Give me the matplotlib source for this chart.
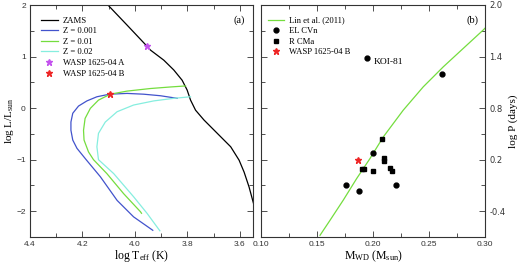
import numpy as np
import matplotlib.pyplot as plt
from matplotlib.ticker import MultipleLocator

plt.rcParams['mathtext.fontset'] = 'custom'
plt.rcParams['mathtext.rm'] = 'Liberation Serif'
plt.rcParams['mathtext.it'] = 'Liberation Serif:italic'

# panel (a): HR diagram
zams_logt = [4.103, 4.03, 3.954, 3.941, 3.89, 3.852, 3.82, 3.801, 3.788, 3.769,
             3.737, 3.686, 3.635, 3.603, 3.584, 3.565, 3.548, 3.544]
zams_logl = [2.0, 1.61, 1.20, 1.126, 0.93, 0.74, 0.54, 0.35, 0.155, -0.04,
             -0.23, -0.49, -0.75, -1.01, -1.24, -1.53, -1.85, -1.95]

z001_logt = [3.839, 3.903, 3.967, 4.03, 4.097, 4.145, 4.183, 4.215, 4.237, 4.244,
             4.244, 4.237, 4.221, 4.186, 4.132, 4.068, 4.005, 3.932]
z001_logl = [0.19, 0.24, 0.27, 0.285, 0.27, 0.22, 0.14, 0.04, -0.10, -0.27,
             -0.43, -0.62, -0.78, -1.0, -1.33, -1.79, -2.11, -2.37]

z01_logt = [3.807, 3.865, 3.941, 4.03, 4.094, 4.139, 4.17, 4.19, 4.196, 4.194,
            4.177, 4.158, 4.107, 4.043, 3.979, 3.975]
z01_logl = [0.43, 0.41, 0.38, 0.33, 0.27, 0.155, -0.005, -0.20, -0.43, -0.62,
            -0.85, -1.0, -1.27, -1.66, -2.01, -2.04]

z02_logt = [3.788, 3.852, 3.928, 4.005, 4.068, 4.113, 4.139, 4.145, 4.139, 4.081,
            4.005, 3.954, 3.905]
z02_logl = [0.22, 0.19, 0.14, 0.06, -0.07, -0.27, -0.49, -0.75, -1.0, -1.27,
            -1.72, -2.04, -2.38]

star_a = (3.954, 1.20)
star_b = (4.096, 0.27)

# panel (b): M_WD - P relation
lin_m = [0.1527, 0.1616, 0.1735, 0.1854, 0.1973, 0.2092, 0.227, 0.2449, 0.2628,
         0.2806, 0.2985, 0.30]
lin_logp = [-0.68, -0.506, -0.27, -0.02, 0.213, 0.465, 0.776, 1.048, 1.281,
            1.495, 1.71, 1.73]

elcvn_m = [0.1944, 0.2613, 0.2003, 0.1759, 0.1872, 0.2203]
elcvn_logp = [1.386, 1.192, 0.283, -0.09, -0.168, -0.09]

rcma_m = [0.2083, 0.2098, 0.2098, 0.1899, 0.192, 0.2003, 0.2152, 0.2167]
rcma_logp = [0.435, 0.22, 0.18, 0.097, 0.097, 0.069, 0.104, 0.065]

wasp_b = (0.1869, 0.193)

serif = 'Liberation Serif'
sans = 'Liberation Sans'
green = '#74dd3e'

fig = plt.figure(figsize=(5.2, 2.65), dpi=100)
ax1 = fig.add_axes([30/520, 28/265, 223/520, 232/265])
ax2 = fig.add_axes([261/520, 28/265, 224/520, 232/265])

ax1.plot(zams_logt, zams_logl, color='black', lw=0.9, label='ZAMS')
ax1.plot(z001_logt, z001_logl, color='#4253cc', lw=0.9, label='Z = 0.001')
ax1.plot(z01_logt, z01_logl, color=green, lw=0.9, label='Z = 0.01')
ax1.plot(z02_logt, z02_logl, color='#86eedf', lw=0.9, label='Z = 0.02')
ax1.plot(*star_a, ls='none', marker='*', color='#c453ee', ms=4.5, label='WASP 1625-04 A')
ax1.plot(*star_b, ls='none', marker='*', color='#ee2626', ms=4.5, label='WASP 1625-04 B')
ax1.set_xlim(4.4, 3.55)
ax1.set_ylim(-2.5, 2)
ax1.xaxis.set_major_locator(MultipleLocator(0.2))
ax1.xaxis.set_minor_locator(MultipleLocator(0.1))
ax1.yaxis.set_major_locator(MultipleLocator(1))
ax1.yaxis.set_minor_locator(MultipleLocator(0.5))
ax1.xaxis.set_major_formatter(plt.FormatStrFormatter('%.1f'))
ax1.set_xlabel(r'log T$_{\rm eff}$ (K)', family=serif, fontsize=8.5, labelpad=0)
ax1.set_ylabel(r'log L/L$_{\rm sun}$', family=serif, fontsize=8, labelpad=0.5)
ax1.text(0.937, 0.935, '(a)', transform=ax1.transAxes, ha='center', va='center',
         family=serif, fontsize=7.5)
ax1.legend(loc='upper left', bbox_to_anchor=(0.05, 0.95), frameon=False,
           prop={'family': serif, 'size': 6.2}, handlelength=1.9,
           labelspacing=0.3, handletextpad=0.6, borderaxespad=0, borderpad=0)

ax2.plot(lin_m, lin_logp, color=green, lw=0.9, label='Lin et al. (2011)')
ax2.plot(elcvn_m, elcvn_logp, ls='none', marker='o', color='black', ms=3.5, label='EL CVn')
ax2.plot(rcma_m, rcma_logp, ls='none', marker='s', color='black', ms=2.8, label='R CMa')
ax2.plot(*wasp_b, ls='none', marker='*', color='#ee2626', ms=4.5, label='WASP 1625-04 B')
ax2.text(0.2003, 1.34, 'KOI-81', family=serif, fontsize=6.8, va='center')
ax2.set_xlim(0.10, 0.30)
ax2.xaxis.set_major_locator(MultipleLocator(0.05))
ax2.xaxis.set_minor_locator(MultipleLocator(0.025))
ax2.set_yticks([2.0, 1.4, 0.8, 0.2, -0.4])
ax2.set_yticks([1.7, 1.1, 0.5, -0.1], minor=True)
ax2.set_ylim(-0.7, 2.0)
ax2.yaxis.set_major_formatter(plt.FormatStrFormatter('%.1f'))
ax2.xaxis.set_major_formatter(plt.FormatStrFormatter('%.2f'))
ax2.yaxis.set_label_position('right')
ax2.set_xlabel(r'M$_{\rm WD}$ (M$_{\rm sun}$)', family=serif, fontsize=8.5, labelpad=0)
ax2.set_ylabel('log P (days)', family=serif, fontsize=8, labelpad=2)
ax2.text(0.946, 0.935, '(b)', transform=ax2.transAxes, ha='center', va='center',
         family=serif, fontsize=7.5)
ax2.legend(loc='upper left', bbox_to_anchor=(0.03, 0.95), frameon=False,
           prop={'family': serif, 'size': 6.2}, handlelength=1.9,
           labelspacing=0.3, handletextpad=0.6, borderaxespad=0, borderpad=0)

for ax in (ax1, ax2):
    ax.tick_params(which='both', direction='in', top=True, bottom=True,
                   left=True, right=True, labelsize=6, pad=3, width=0.6,
                   colors='#333333')
    ax.tick_params(which='major', length=4)
    ax.tick_params(which='minor', length=3)
    for lab in ax.get_xticklabels() + ax.get_yticklabels():
        lab.set_family(sans)
        lab.set_color('#333333')
    for sp in ax.spines.values():
        sp.set_linewidth(0.8)
        sp.set_color('#333333')
ax2.tick_params(which='both', labelleft=False, labelright=True)

fig.savefig('out.png', dpi=100)
